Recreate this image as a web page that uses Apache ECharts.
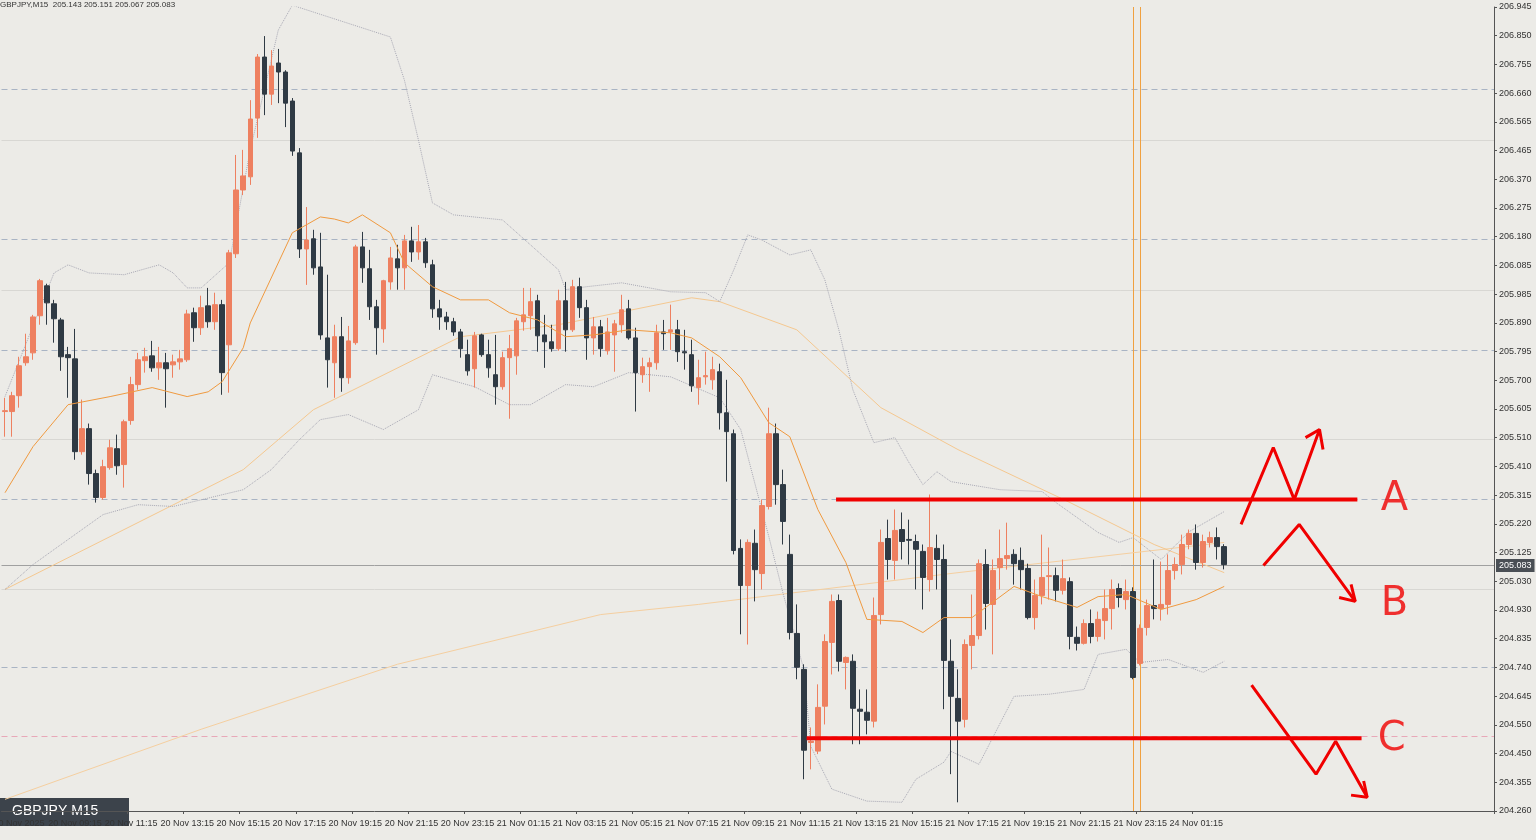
<!DOCTYPE html>
<html><head><meta charset="utf-8">
<script src="https://cdn.jsdelivr.net/npm/echarts@6/dist/echarts.min.js"></script>
<style>html,body{margin:0;padding:0;background:#ECEBE7}#c{width:1536px;height:840px}</style>
</head><body><div id="c"></div>
<script>
const opens=[205.594,205.594,205.647,205.757,205.790,205.914,206.014,205.954,205.900,205.784,205.770,205.460,205.537,205.387,205.307,205.407,205.470,205.417,205.564,205.684,205.764,205.780,205.740,205.757,205.750,205.760,205.767,205.924,205.874,205.947,205.894,205.951,205.817,206.121,206.334,206.378,206.574,206.778,206.654,206.758,206.728,206.631,206.458,206.137,206.171,206.077,205.840,205.757,205.844,205.707,205.824,206.144,206.071,205.944,205.870,206.027,206.104,206.074,206.164,206.127,206.161,206.084,205.937,205.910,205.894,205.860,205.784,205.737,205.850,205.784,205.717,205.677,205.774,205.780,205.894,205.914,205.964,205.850,205.827,205.804,205.964,205.867,206.011,205.941,205.840,205.877,205.797,205.850,205.884,205.937,205.840,205.717,205.744,205.757,205.860,205.860,205.867,205.794,205.784,205.674,205.710,205.700,205.727,205.590,205.520,205.137,205.013,205.154,205.053,205.277,205.520,205.350,205.117,204.853,204.733,204.489,204.460,204.610,204.823,204.963,204.756,204.760,204.600,204.590,204.560,204.916,205.170,205.097,205.200,205.167,205.160,205.127,205.033,205.137,205.100,204.760,204.636,204.566,204.813,204.846,205.083,204.950,205.073,205.103,205.117,205.097,205.070,204.906,204.980,205.043,205.046,204.997,205.026,204.840,204.820,204.886,204.843,204.896,204.936,205.003,204.966,204.993,204.753,204.873,204.946,204.936,204.950,205.063,205.083,205.150,205.187,205.090,205.157,205.173,205.143];
const closes=[205.597,205.647,205.747,205.777,205.910,206.031,205.957,205.904,205.777,205.774,205.460,205.537,205.387,205.307,205.410,205.473,205.413,205.560,205.684,205.767,205.777,205.740,205.757,205.737,205.760,205.770,205.920,205.874,205.941,205.894,205.951,205.724,206.124,206.334,206.381,206.571,206.778,206.654,206.748,206.728,206.624,206.464,206.137,206.167,206.074,205.850,205.767,205.844,205.707,205.830,206.144,206.074,205.944,205.874,206.031,206.107,206.074,206.164,206.127,206.161,206.091,205.937,205.910,205.894,205.860,205.804,205.730,205.847,205.784,205.740,205.677,205.774,205.804,205.897,205.917,205.961,205.847,205.827,205.804,205.964,205.867,206.011,205.941,205.840,205.877,205.804,205.860,205.887,205.934,205.840,205.724,205.744,205.757,205.857,205.854,205.867,205.794,205.790,205.680,205.707,205.714,205.734,205.590,205.527,205.130,205.013,205.157,205.066,205.280,205.520,205.350,205.227,204.856,204.740,204.463,204.493,204.606,204.826,204.960,204.760,204.773,204.603,204.593,204.563,204.913,205.157,205.100,205.197,205.160,205.164,205.134,205.040,205.140,205.100,204.763,204.643,204.560,204.816,204.846,205.086,204.953,205.063,205.103,205.113,205.086,205.066,204.906,204.980,205.040,205.046,204.997,205.036,204.843,204.820,204.886,204.843,204.900,204.936,205.000,204.973,204.993,204.706,204.870,204.946,204.936,204.950,205.063,205.083,205.150,205.187,205.090,205.160,205.173,205.143,205.083];
const highs=[205.640,205.660,205.777,205.854,205.917,206.037,206.021,205.967,205.907,205.810,205.870,205.634,205.554,205.400,205.433,205.500,205.517,205.567,205.710,205.790,205.807,205.830,205.810,205.790,205.784,205.800,205.934,205.941,205.981,206.007,205.991,205.967,206.134,206.451,206.468,206.634,206.788,206.848,206.801,206.805,206.734,206.641,206.474,206.277,206.201,206.191,206.051,205.884,205.910,205.880,206.151,206.194,206.134,205.967,206.034,206.144,206.151,206.184,206.211,206.217,206.174,206.101,205.967,205.927,205.907,205.870,205.834,205.860,205.854,205.834,205.850,205.794,205.850,205.907,206.007,206.007,205.984,205.917,205.884,206.001,206.027,206.034,206.041,205.967,205.910,205.900,205.907,205.900,205.984,205.967,205.874,205.774,205.774,205.884,205.900,205.951,205.900,205.867,205.834,205.767,205.794,205.777,205.754,205.700,205.534,205.167,205.167,205.200,205.300,205.607,205.554,205.400,205.183,204.950,204.750,204.539,204.683,204.850,204.983,204.983,204.776,204.783,204.666,204.666,204.973,205.200,205.233,205.267,205.257,205.233,205.183,205.150,205.317,205.183,205.150,204.833,204.733,204.833,204.983,205.100,205.134,205.100,205.200,205.223,205.134,205.140,205.086,205.033,205.183,205.140,205.073,205.100,205.040,204.876,204.900,204.933,204.926,205.000,205.033,205.020,205.033,205.007,204.883,204.966,205.100,205.093,205.117,205.107,205.183,205.200,205.217,205.183,205.193,205.207,205.151];
const lows=[205.510,205.510,205.607,205.747,205.767,205.884,205.884,205.824,205.730,205.640,205.433,205.450,205.350,205.290,205.300,205.400,205.383,205.340,205.550,205.667,205.724,205.727,205.700,205.607,205.707,205.734,205.760,205.827,205.850,205.874,205.867,205.650,205.657,206.107,206.317,206.351,206.508,206.584,206.618,206.624,206.544,206.448,206.107,206.017,206.051,205.834,205.674,205.640,205.660,205.687,205.817,206.024,205.900,205.784,205.824,206.001,206.001,206.001,206.094,206.101,206.074,205.907,205.867,205.867,205.847,205.774,205.714,205.674,205.777,205.707,205.617,205.667,205.570,205.717,205.864,205.867,205.794,205.740,205.794,205.797,205.794,205.860,205.907,205.767,205.784,205.777,205.784,205.727,205.857,205.834,205.594,205.690,205.660,205.734,205.800,205.800,205.760,205.734,205.660,205.617,205.684,205.667,205.534,205.360,205.117,204.850,204.816,204.960,205.000,205.267,205.283,205.150,204.833,204.700,204.366,204.399,204.450,204.549,204.716,204.726,204.666,204.483,204.483,204.516,204.539,204.883,205.033,205.033,205.100,205.083,205.000,204.933,204.993,205.000,204.600,204.383,204.289,204.539,204.733,204.833,204.866,204.783,205.000,205.066,205.016,205.000,204.900,204.866,204.950,204.966,204.960,204.983,204.800,204.796,204.816,204.820,204.826,204.833,204.866,204.940,204.933,204.700,204.746,204.846,204.900,204.896,204.916,205.033,205.050,205.134,205.066,205.073,205.140,205.100,205.067];

const maFast=[[0,205.323],[4,205.477],[9,205.617],[15,205.644],[21,205.674],[26,205.644],[29,205.660],[31,205.694],[34,205.807],[35,205.890],[41,206.191],[45,206.244],[47,206.237],[49,206.224],[51,206.251],[55,206.191],[57,206.091],[61,206.011],[65,205.967],[69,205.967],[72,205.924],[76,205.900],[80,205.844],[84,205.850],[89,205.867],[95,205.857],[98,205.840],[102,205.777],[105,205.707],[109,205.557],[112,205.510],[116,205.267],[120,205.090],[123,204.900],[128,204.893],[131,204.856],[134,204.906],[138,204.906],[144,205.010],[148,204.976],[153,204.940],[156,204.976],[160,204.983],[165,204.933],[170,204.966],[174,205.010]];
const maSlow=[[0,205.000],[34,205.400],[44,205.600],[65,205.844],[79,205.884],[98,205.974],[102,205.961],[113,205.867],[125,205.607],[136,205.467],[152,205.290],[164,205.150],[174,205.056]];
const maLong=[[0,204.299],[28,204.533],[56,204.750],[85,204.916],[99,204.950],[136,205.056],[174,205.157]];
const bandUp=[[0,205.644],[7,206.057],[9,206.084],[12,206.057],[17,206.051],[22,206.084],[24,206.057],[26,206.007],[28,206.007],[32,206.091],[35,206.468],[39,206.868],[41,206.951],[55,206.845],[57,206.701],[59,206.501],[61,206.291],[64,206.251],[71,206.234],[79,206.067],[80,206.001],[83,206.011],[88,206.024],[95,205.994],[100,205.991],[102,205.961],[104,206.067],[106,206.184],[108,206.167],[112,206.117],[115,206.134],[117,206.034],[119,205.867],[121,205.667],[124,205.490],[127,205.507],[129,205.424],[131,205.350],[133,205.393],[135,205.360],[142,205.333],[148,205.327],[150,205.290],[156,205.190],[159,205.157],[161,205.173],[165,205.100],[169,205.193],[174,205.260]];
const bandLow=[[0,205.000],[4,205.083],[8,205.150],[14,205.250],[19,205.283],[24,205.277],[34,205.333],[38,205.400],[42,205.500],[45,205.567],[49,205.584],[54,205.534],[59,205.600],[61,205.717],[65,205.690],[67,205.677],[72,205.617],[75,205.617],[80,205.684],[84,205.677],[89,205.724],[95,205.710],[100,205.660],[102,205.640],[105,205.534],[109,205.177],[111,204.990],[114,204.733],[115,204.476],[118,204.333],[123,204.293],[128,204.289],[130,204.366],[134,204.423],[135,204.459],[139,204.416],[144,204.643],[149,204.650],[154,204.666],[156,204.783],[160,204.800],[162,204.756],[166,204.766],[171,204.723],[174,204.760]];

const yTicks=['204.260','204.355','204.450','204.550','204.645','204.740','204.835','204.930','205.030','205.125','205.220','205.315','205.410','205.510','205.605','205.700','205.795','205.890','205.985','206.085','206.180','206.275','206.370','206.465','206.565','206.660','206.755','206.850','206.945'];
const xTicks=['20 Nov 2025','20 Nov 09:15','20 Nov 11:15','20 Nov 13:15','20 Nov 15:15','20 Nov 17:15','20 Nov 19:15','20 Nov 21:15','20 Nov 23:15','21 Nov 01:15','21 Nov 03:15','21 Nov 05:15','21 Nov 07:15','21 Nov 09:15','21 Nov 11:15','21 Nov 13:15','21 Nov 15:15','21 Nov 17:15','21 Nov 19:15','21 Nov 21:15','21 Nov 23:15','24 Nov 01:15'];
const dashedLevels=[206.671,206.174,205.804,205.300,204.736];
const solidLevels=[206.498,206.001,205.500,205.003];
const pinkLevel=204.506;
const lastPrice=205.083;
const vLines=[161,162];
const redLineA=[[118.6,205.300],[193,205.300]];
const redLineC=[[114.4,204.503],[193.6,204.503]];
const pathA=[[176.4,205.217],[181,205.474],[184,205.300],[187.6,205.534]];
const headA=[[185.6,205.507],[187.6,205.534],[188.1,205.467]];
const pathB=[[179.6,205.080],[184.7,205.217],[192.7,204.960]];
const headB=[[190.4,204.973],[192.7,204.960],[192.1,205.017]];
const pathC=[[177.9,204.680],[187.1,204.383],[189.9,204.493],[194.4,204.306]];
const headC=[[192.1,204.313],[194.4,204.306],[193.9,204.360]];
const letters=[[198.3,205.300,'A'],[198.3,204.950,'B'],[197.9,204.500,'C']];

const SLOTS=213;
const cats=[];for(let i=0;i<SLOTS;i++)cats.push(String(i));
const candles=opens.map((o,i)=>[o,closes[i],lows[i],highs[i]]);
const yMin=204.26, yInt=204.26/2130, yMax=yMin+28*yInt;

const chart=echarts.init(document.getElementById('c'));
const mlData=[];
dashedLevels.forEach(v=>mlData.push({yAxis:v,lineStyle:{color:'#A9B4C4',type:[6,4],width:1}}));
solidLevels.forEach(v=>mlData.push({yAxis:v,lineStyle:{color:'#D8D7D3',type:'solid',width:1}}));
mlData.push({yAxis:pinkLevel,lineStyle:{color:'#E8A8B8',type:[6,4],width:1}});
vLines.forEach(v=>mlData.push({xAxis:v,lineStyle:{color:'#F0A040',type:'solid',width:1}}));
mlData.push({yAxis:lastPrice,lineStyle:{color:'#A0A0A0',type:'solid',width:1},
  label:{show:true,position:'end',formatter:'205.083',color:'#fff',backgroundColor:'#4A4F55',fontSize:9,padding:[2,3],distance:2}});
const L=(d,c,w,t,z)=>({type:'line',xAxisIndex:1,data:d,symbol:'none',silent:true,lineStyle:{color:c,width:w,type:t||'solid'},z:z||3});
chart.setOption({
  backgroundColor:'#ECEBE7',animation:false,
  grid:{left:1.5,right:42,top:7,bottom:29,containLabel:false,outerBoundsMode:'none'},
  xAxis:[{type:'category',data:cats,boundaryGap:true,
    axisLine:{onZero:false,lineStyle:{color:'#555'}},axisTick:{show:true,interval:(i)=>(i-2)%8===0&&i<=170,lineStyle:{color:'#555'},length:3},
    axisLabel:{interval:0,hideOverlap:false,fontSize:9,color:'#333',fontFamily:'Liberation Sans',margin:8,
      formatter:(v,i)=>((i-2)%8===0&&(i-2)/8<xTicks.length)?xTicks[(i-2)/8]:''},
    splitLine:{show:false}},
    {type:'value',min:-0.5,max:SLOTS-0.5,show:false,axisLine:{show:false,onZero:false},axisTick:{show:false},axisLabel:{show:false},splitLine:{show:false}}],
  yAxis:{type:'value',position:'right',min:yMin,max:yMax,interval:yInt,scale:true,
    axisLine:{show:true,onZero:false,lineStyle:{color:'#555'}},axisTick:{show:true,length:3,lineStyle:{color:'#555'}},
    axisLabel:{fontSize:9,color:'#333',margin:5,fontFamily:'Liberation Sans',
      formatter:v=>{const k=Math.round((v-yMin)/yInt);return yTicks[k]||'';}},
    splitLine:{show:false}},
  series:[
    {type:'candlestick',data:candles,barWidth:5,z:5,
     itemStyle:{color:'#EE8060',color0:'#2F3A44',borderColor:'#EE8060',borderColor0:'#2F3A44',borderWidth:1},
     markLine:{silent:true,symbol:'none',label:{show:false},data:mlData,z:1}},
    L(maLong,'#F5CFA0',1),L(maSlow,'#F5C890',1),L(maFast,'#F09A40',1,'solid',6),
    L(bandUp,'#A8A8B4',1,'dotted'),L(bandLow,'#A8A8B4',1,'dotted'),
    L(redLineA,'#F00000',4,'solid',10),L(redLineC,'#F00000',4,'solid',10),
    L(pathA,'#F00000',3,'solid',10),L(headA,'#F00000',3,'solid',10),
    L(pathB,'#F00000',3,'solid',10),L(headB,'#F00000',3,'solid',10),
    L(pathC,'#F00000',3,'solid',10),L(headC,'#F00000',3,'solid',10),
    {type:'scatter',xAxisIndex:1,data:letters.map(l=>[l[0],l[1],l[2]]),symbolSize:0,silent:true,z:10,
     label:{show:true,position:'inside',formatter:p=>p.data[2],color:'#F00000',fontSize:40,fontFamily:'DejaVu Sans'}}
  ],
  graphic:[
    {type:'text',left:0,top:1,style:{text:'GBPJPY,M15  205.143 205.151 205.067 205.083',fontSize:8,fill:'#333',fontFamily:'Liberation Sans'}},
    {type:'rect',left:0,top:798,shape:{width:129,height:28},style:{fill:'#3C434B'}},
    {type:'text',left:12,top:804,style:{text:'GBPJPY M15',fontSize:14,fill:'#fff',fontFamily:'Liberation Sans'}}
  ]
});
</script></body></html>
